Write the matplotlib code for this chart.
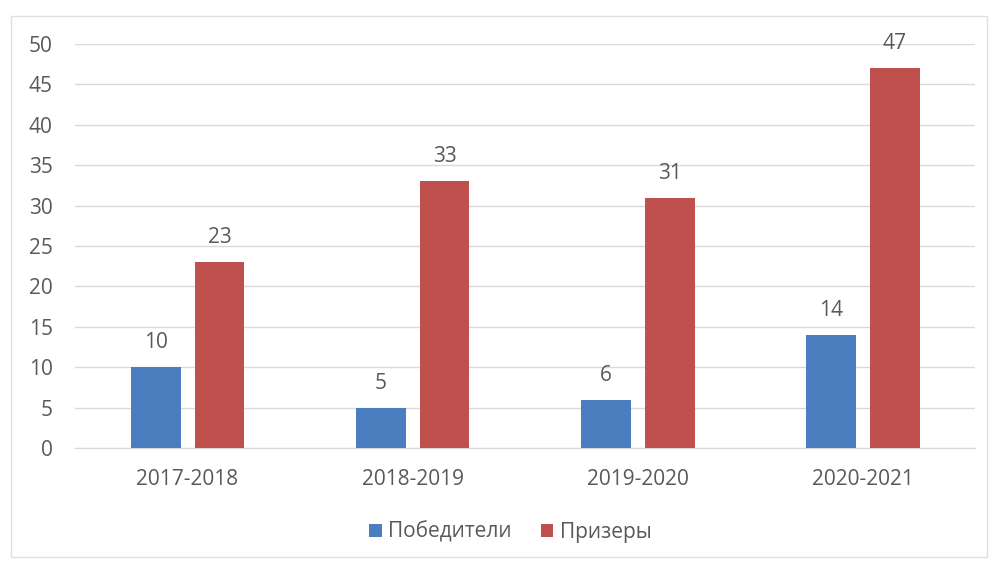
import matplotlib

matplotlib.use("Agg")

import matplotlib.pyplot as plt
import numpy as np
from matplotlib.patches import Rectangle

plt.rcParams["font.family"] = ["Open Sans", "DejaVu Sans"]

years = ["2017-2018", "2018-2019", "2019-2020", "2020-2021"]
winners = [10, 5, 6, 14]
prizers = [23, 33, 31, 47]

blue = "#4a7ebf"
red = "#c0504d"
text_color = "#595959"

fig = plt.figure(figsize=(9.91, 5.63), dpi=100)
ax = fig.add_axes([0.0757, 0.2043, 0.9083, 0.7175])

x = np.arange(len(years))
width = 0.222
offset = 0.142
b1 = ax.bar(x - offset, winners, width, color=blue, label="Победители", zorder=3)
b2 = ax.bar(x + offset, prizers, width, color=red, label="Призеры", zorder=3)

for bars in (b1, b2):
    for rect in bars:
        ax.annotate(
            f"{int(rect.get_height())}",
            (rect.get_x() + rect.get_width() / 2, rect.get_height()),
            xytext=(0, 10),
            textcoords="offset points",
            ha="center",
            va="bottom",
            fontsize=15,
            color=text_color,
        )

ax.set_xlim(-0.5, 3.5)
ax.set_ylim(0, 50)
ax.set_yticks(range(0, 51, 5))
ax.set_xticks(x)
ax.set_xticklabels(years)
ax.tick_params(axis="both", length=0, labelsize=15, colors=text_color)
ax.tick_params(axis="y", pad=16)
ax.tick_params(axis="x", pad=15)
ax.grid(axis="y", color="#d9d9d9", linewidth=1, zorder=0)
for side in ["top", "right", "left"]:
    ax.spines[side].set_visible(False)
ax.spines["bottom"].set_color("#d9d9d9")

fig.legend(
    loc="center",
    bbox_to_anchor=(0.515, 0.055),
    ncol=2,
    frameon=False,
    fontsize=15,
    labelcolor=text_color,
    handlelength=0.6,
    handleheight=0.6,
    handletextpad=0.3,
    columnspacing=1.4,
)

fig.patches.append(
    Rectangle(
        (0.011, 0.01),
        0.985,
        0.962,
        transform=fig.transFigure,
        fill=False,
        edgecolor="#e0e0e0",
        linewidth=1,
    )
)

fig.savefig("out.png", dpi=100, facecolor="white")
plt.close(fig)
